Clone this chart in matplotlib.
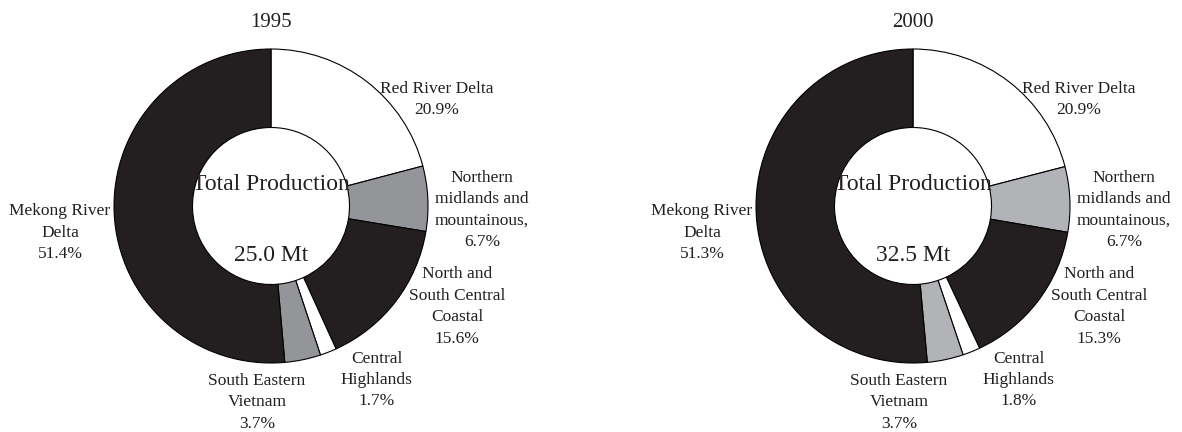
import matplotlib.pyplot as plt

# Rice production share by region
regions = ['Red River Delta', 'Northern\nmidlands and\nmountainous,',
           'North and\nSouth Central\nCoastal', 'Central\nHighlands',
           'South Eastern\nVietnam', 'Mekong River\nDelta']
share_1995 = [20.9, 6.7, 15.6, 1.7, 3.7, 51.4]
share_2000 = [20.9, 6.7, 15.3, 1.8, 3.7, 51.3]
total_1995 = 25.0
total_2000 = 32.5

# label block positions (in radius units, relative to the pie centre)
label_pos = [(1.057, 0.68), (1.344, -0.025), (1.185, -0.64),
             (0.672, -1.108), (-0.089, -1.25), (-1.344, -0.17)]

plt.rcParams['font.family'] = ['Liberation Serif', 'DejaVu Serif']

W, H = 1182, 432
R = 157.0  # outer radius in pixels

fig = plt.figure(figsize=(W / 100, H / 100), dpi=100)


def donut(x0, x1, cx, cy, year, shares, total, gray):
    ax = fig.add_axes([x0 / W, 0, (x1 - x0) / W, 1])
    black = '#231f20'
    colors = ['white', gray, black, 'white', gray, black]
    ax.pie(shares, colors=colors, startangle=90, counterclock=False,
           radius=1.0,
           wedgeprops=dict(width=0.5, edgecolor='black', linewidth=0.8))
    ax.set_aspect('auto')
    ax.set_xlim((x0 - cx) / R, (x1 - cx) / R)
    ax.set_ylim((cy - H) / R, cy / R)
    ax.axis('off')

    for name, val, (lx, ly) in zip(regions, shares, label_pos):
        ax.text(lx, ly, f'{name}\n{val:.1f}%', ha='center', va='center',
                fontsize=12.5, linespacing=1.45, color='#231f20')

    ax.text(0, 0.14, 'Total Production', ha='center', va='center',
            fontsize=17, color='#231f20')
    ax.text(0, -0.315, f'{total:.1f} Mt', ha='center', va='center',
            fontsize=17, color='#231f20')
    ax.text(0, 1.17, year, ha='center', va='center', fontsize=15,
            color='#231f20')


donut(0, 591, 271, 206, '1995', share_1995, total_1995, '#939598')
donut(591, 1182, 913, 206, '2000', share_2000, total_2000, '#b1b3b6')

fig.savefig('out.png', dpi=100)
